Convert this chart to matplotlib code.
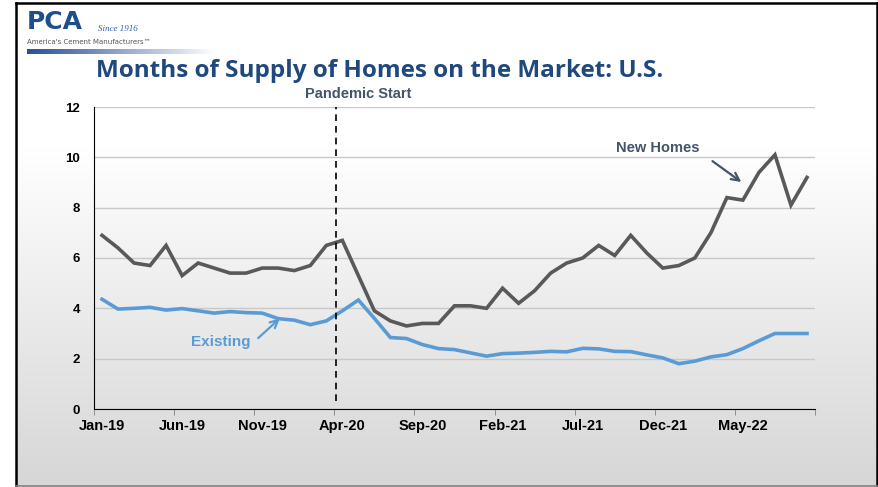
import matplotlib
matplotlib.use("Agg")
import matplotlib.pyplot as plt
import numpy as np

# monthly data, Jan-19 .. Sep-22
tick_labels = ["Jan-19", "Jun-19", "Nov-19", "Apr-20", "Sep-20",
               "Feb-21", "Jul-21", "Dec-21", "May-22"]

new_homes = [6.9, 6.4, 5.8, 5.7, 6.5, 5.3, 5.8, 5.6, 5.4, 5.4,
             5.6, 5.6, 5.5, 5.7, 6.5, 6.7, 5.3, 3.9, 3.5, 3.3,
             3.4, 3.4, 4.1, 4.1, 4.0, 4.8, 4.2, 4.7, 5.4, 5.8,
             6.0, 6.5, 6.1, 6.9, 6.2, 5.6, 5.7, 6.0, 7.0, 8.4,
             8.3, 9.4, 10.1, 8.1, 9.2]

existing = [4.36, 3.97, 4.0, 4.04, 3.93, 3.99, 3.9, 3.81, 3.87, 3.83,
            3.81, 3.59, 3.53, 3.35, 3.5, 3.9, 4.33, 3.6, 2.84, 2.8,
            2.56, 2.4, 2.36, 2.23, 2.1, 2.2, 2.22, 2.25, 2.29, 2.27,
            2.41, 2.39, 2.29, 2.28, 2.15, 2.03, 1.8, 1.9, 2.07, 2.16,
            2.4, 2.71, 3.0, 3.0, 3.0]

pandemic_x = 14.6

W, H = 879, 487
fig = plt.figure(figsize=(W / 100, H / 100), dpi=100)
fig.patch.set_facecolor("white")

# slide background with gradient
bg = fig.add_axes([16 / W, 1 / H, (877 - 16) / W, (484 - 1) / H])
rows = np.linspace(0, 1, 300)
shade = np.where(rows < 0.3, 1.0, 1.0 - (rows - 0.3) / 0.7 * 0.16)
grad = np.dstack([shade, shade, shade])[0][:, None, :].repeat(2, axis=1)
bg.imshow(grad, aspect="auto", extent=[0, 1, 0, 1], origin="upper")
bg.set_xlim(0, 1)
bg.set_ylim(0, 1)
bg.axis("off")

# frame
fig.add_artist(plt.Line2D([16 / W, 877 / W], [1 - 3 / H, 1 - 3 / H], color="black", lw=1.8))
fig.add_artist(plt.Line2D([16 / W, 16 / W], [1 - 3 / H, 0], color="black", lw=1.8))
fig.add_artist(plt.Line2D([877 / W, 877 / W], [1 - 3 / H, 0], color="black", lw=1.8))
fig.add_artist(plt.Line2D([16 / W, 877 / W], [1.5 / H, 1.5 / H], color="#808080", lw=1.2))

# logo
fig.text(27 / W, 1 - 22 / H, "PCA", fontsize=18, fontweight="bold", color="#1f4e8c",
         family="Liberation Sans Narrow", va="center", ha="left")
fig.text(98 / W, 1 - 29 / H, "Since 1916", fontsize=6.5, style="italic", color="#2f5da8",
         va="center", ha="left", family="Liberation Serif")
fig.text(27 / W, 1 - 42 / H, "America's Cement Manufacturers\u2122", fontsize=5,
         color="#555555", va="center", ha="left", family="Liberation Sans Narrow")
bar = fig.add_axes([27 / W, 1 - 54 / H, 190 / W, 5 / H])
bar.imshow(np.linspace(0, 1, 100)[None, :], cmap=matplotlib.colors.LinearSegmentedColormap.from_list(
    "bar", ["#2a4f9a", "#ffffff"]), aspect="auto")
bar.axis("off")

# title
fig.text(380 / W, 1 - 71 / H, "Months of Supply of Homes on the Market: U.S.",
         fontsize=17.5, fontweight="bold", color="#1f497d", family="Open Sans",
         ha="center", va="center")

# chart
ax = fig.add_axes([94 / W, 1 - 409 / H, (815 - 94) / W, (409 - 107) / H])
ax.patch.set_alpha(0)
x = np.arange(len(new_homes))
ax.plot(x, new_homes, color="#595959", lw=2.6, solid_joinstyle="miter", zorder=3)
ax.plot(x, existing, color="#5b9bd5", lw=2.6, solid_joinstyle="miter", zorder=3)

ax.set_xlim(-0.5, len(new_homes) - 0.5)
ax.set_ylim(0, 12)
ax.set_yticks(range(0, 13, 2))
ax.set_yticklabels([str(v) for v in range(0, 13, 2)], fontsize=9.5, fontweight="bold",
                   family="Liberation Sans")
ax.tick_params(axis="y", length=0, pad=10)
ax.set_xticks(np.arange(0, len(new_homes), 5))
ax.set_xticklabels(tick_labels, fontsize=10.5, fontweight="bold", family="Liberation Sans")
ax.set_xticks(np.arange(-0.5, len(new_homes), 5), minor=True)
ax.tick_params(axis="x", which="major", length=0, pad=7)
ax.tick_params(axis="x", which="minor", length=4, color="#808080")
ax.grid(axis="y", color="#c8c8c8", lw=1)
ax.set_axisbelow(True)
for s in ["top", "right"]:
    ax.spines[s].set_visible(False)
ax.spines["left"].set_color("black")
ax.spines["bottom"].set_color("black")

ax.plot([pandemic_x, pandemic_x], [0.3, 12], color="black", lw=1.2, ls=(0, (4, 3)), zorder=4)
ax.text(pandemic_x + 1.4, 12.25, "Pandemic Start", fontsize=10.5, fontweight="bold",
        color="#44546a", ha="center", va="bottom", family="Liberation Sans")

# labels and arrows
ax.text(34.7, 10.37, "New Homes", fontsize=10.5, fontweight="bold", color="#44546a",
        ha="center", va="center", family="Liberation Sans")
ax.annotate("", xy=(39.9, 9.02), xytext=(38.1, 9.85),
            arrowprops=dict(arrowstyle="->", color="#44546a", lw=1.6,
                            shrinkA=0, shrinkB=0, mutation_scale=14))
ax.text(7.4, 2.66, "Existing", fontsize=11, fontweight="bold", color="#5b9bd5",
        ha="center", va="center", family="Liberation Sans")
ax.annotate("", xy=(11.1, 3.6), xytext=(9.75, 2.82),
            arrowprops=dict(arrowstyle="->", color="#5b9bd5", lw=1.6,
                            shrinkA=0, shrinkB=0, mutation_scale=14))

fig.savefig("out.png", dpi=100)
